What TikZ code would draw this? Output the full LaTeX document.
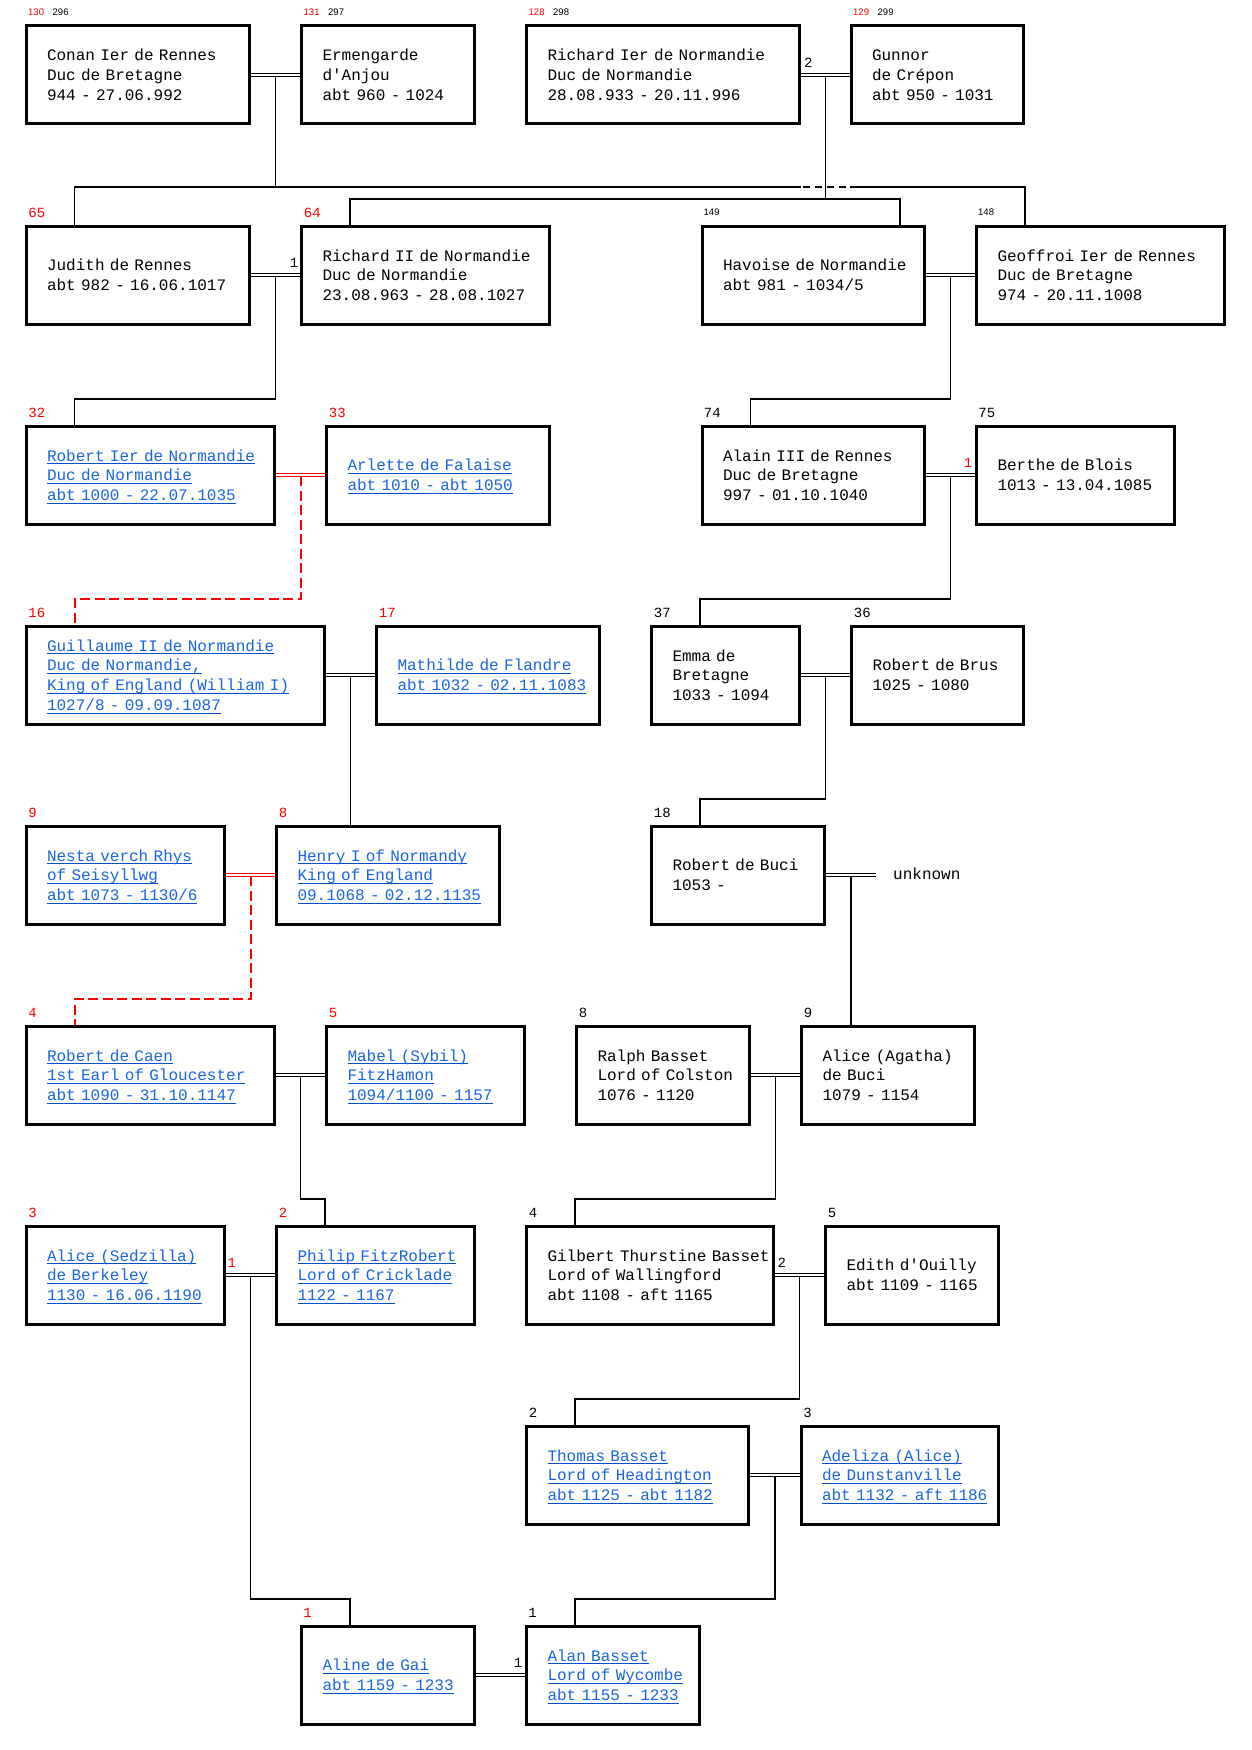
\documentclass[tikz,border=0pt]{standalone}
\usepackage{fontspec}
\setmonofont{Liberation Mono}
\newfontfamily\lblfont{Liberation Sans}
\newfontfamily\lblmono{Liberation Mono}
\usetikzlibrary{calc}
\definecolor{lnk}{RGB}{25,100,225}
\definecolor{lnkline}{RGB}{0,80,200}
\setlength{\parindent}{0pt}
\newsavebox\ulbox
\newcommand\sst{\rule[-3.2pt]{0pt}{18pt}}
\newcommand\plainln[1]{\mbox{\sst#1}}
\newcommand\linkln[1]{\sbox\ulbox{\color{lnk}#1}\mbox{\sst\rlap{\color{lnkline}\rule[-3pt]{\wd\ulbox}{1pt}}{\color{lnk}\usebox\ulbox}}}
\newcommand\persbox[5]{%
  \pgfmathsetmacro\pcx{(#2+#3)/2}%
  \pgfmathsetmacro\pcy{75+200*#4}%
  \pgfmathsetmacro\pmw{#3-#2-3}%
  \pgfmathsetmacro\ptw{#3-#2-45}%
  \node[person, minimum width=\pmw pt, text width=\ptw pt] (#1) at (\pcx,\pcy) {#5};}
\begin{document}
\begin{tikzpicture}[x=1pt,y=-1pt,
  person/.style={draw, line width=3pt, inner xsep=21pt, inner ysep=0pt,
    minimum height=98pt, align=left, font=\ttfamily\fontsize{16}{19.8}\selectfont},
  num/.style={font=\lblmono\fontsize{14}{14}\selectfont, inner sep=0pt, anchor=base west},
  tnum/.style={font=\lblfont\fontsize{9.5}{9.5}\selectfont, inner sep=0pt, anchor=base west},
  conn/.style={line width=1.5pt},
  dbl/.style={line width=1pt, double distance=1.2pt, double=white},
  rdash/.style={red, line width=2pt, dash pattern=on 10pt off 4.5pt}]
\fill[white] (0,0) rectangle (1251,1750);
% ---------- persons ----------
\persbox{conan}{24.5}{251}{0}{\plainln{Conan Ier de Rennes}\\\plainln{Duc de Bretagne}\\\plainln{944 - 27.06.992}}
\persbox{ermengarde}{300}{476}{0}{\plainln{Ermengarde}\\\plainln{d'Anjou}\\\plainln{abt 960 - 1024}}
\persbox{richard1}{525}{801}{0}{\plainln{Richard Ier de Normandie}\\\plainln{Duc de Normandie}\\\plainln{28.08.933 - 20.11.996}}
\persbox{gunnor}{849.5}{1025}{0}{\plainln{Gunnor}\\\plainln{de Crépon}\\\plainln{abt 950 - 1031}}
\persbox{judith}{24.5}{251}{1}{\plainln{Judith de Rennes}\\\plainln{abt 982 - 16.06.1017}}
\persbox{richard2}{300}{551}{1}{\plainln{Richard II de Normandie}\\\plainln{Duc de Normandie}\\\plainln{23.08.963 - 28.08.1027}}
\persbox{havoise}{700.5}{926}{1}{\plainln{Havoise de Normandie}\\\plainln{abt 981 - 1034/5}}
\persbox{geoffroi}{975}{1226}{1}{\plainln{Geoffroi Ier de Rennes}\\\plainln{Duc de Bretagne}\\\plainln{974 - 20.11.1008}}
\persbox{robert1}{24.5}{276}{2}{\linkln{Robert Ier de Normandie}\\\linkln{Duc de Normandie}\\\linkln{abt 1000 - 22.07.1035}}
\persbox{arlette}{325}{551}{2}{\linkln{Arlette de Falaise}\\\linkln{abt 1010 - abt 1050}}
\persbox{alain}{700.5}{926}{2}{\plainln{Alain III de Rennes}\\\plainln{Duc de Bretagne}\\\plainln{997 - 01.10.1040}}
\persbox{berthe}{975}{1176}{2}{\plainln{Berthe de Blois}\\\plainln{1013 - 13.04.1085}}
\persbox{guillaume}{24.5}{326}{3}{\linkln{Guillaume II de Normandie}\\\linkln{Duc de Normandie,}\\\linkln{King of England (William I)}\\\linkln{1027/8 - 09.09.1087}}
\persbox{mathilde}{375}{601}{3}{\linkln{Mathilde de Flandre}\\\linkln{abt 1032 - 02.11.1083}}
\persbox{emma}{650}{801}{3}{\plainln{Emma de}\\\plainln{Bretagne}\\\plainln{1033 - 1094}}
\persbox{brus}{850}{1025}{3}{\plainln{Robert de Brus}\\\plainln{1025 - 1080}}
\persbox{nesta}{24.5}{226}{4}{\linkln{Nesta verch Rhys}\\\linkln{of Seisyllwg}\\\linkln{abt 1073 - 1130/6}}
\persbox{henry}{275}{501}{4}{\linkln{Henry I of Normandy}\\\linkln{King of England}\\\linkln{09.1068 - 02.12.1135}}
\persbox{buci}{650}{826}{4}{\plainln{Robert de Buci}\\\plainln{1053 -}}
\persbox{caen}{24.5}{276}{5}{\linkln{Robert de Caen}\\\linkln{1st Earl of Gloucester}\\\linkln{abt 1090 - 31.10.1147}}
\persbox{mabel}{325}{526}{5}{\linkln{Mabel (Sybil)}\\\linkln{FitzHamon}\\\linkln{1094/1100 - 1157}}
\persbox{ralph}{575}{751}{5}{\plainln{Ralph Basset}\\\plainln{Lord of Colston}\\\plainln{1076 - 1120}}
\persbox{agatha}{800}{976}{5}{\plainln{Alice (Agatha)}\\\plainln{de Buci}\\\plainln{1079 - 1154}}
\persbox{sedzilla}{24.5}{226}{6}{\linkln{Alice (Sedzilla)}\\\linkln{de Berkeley}\\\linkln{1130 - 16.06.1190}}
\persbox{philip}{275}{476}{6}{\linkln{Philip FitzRobert}\\\linkln{Lord of Cricklade}\\\linkln{1122 - 1167}}
\persbox{gilbert}{525}{775}{6}{\plainln{Gilbert Thurstine Basset}\\\plainln{Lord of Wallingford}\\\plainln{abt 1108 - aft 1165}}
\persbox{edith}{824}{999.5}{6}{\plainln{Edith d'Ouilly}\\\plainln{abt 1109 - 1165}}
\persbox{thomas}{525}{750}{7}{\linkln{Thomas Basset}\\\linkln{Lord of Headington}\\\linkln{abt 1125 - abt 1182}}
\persbox{adeliza}{799.5}{999.5}{7}{\linkln{Adeliza (Alice)}\\\linkln{de Dunstanville}\\\linkln{abt 1132 - aft 1186}}
\persbox{aline}{300}{476}{8}{\linkln{Aline de Gai}\\\linkln{abt 1159 - 1233}}
\persbox{alan}{525}{701}{8}{\linkln{Alan Basset}\\\linkln{Lord of Wycombe}\\\linkln{abt 1155 - 1233}}
\node[font=\ttfamily\fontsize{16}{19.8}\selectfont, inner sep=0pt, anchor=base west] (unknown) at (893,879.8) {unknown};
% ---------- numbers above boxes ----------
\node[tnum,red] (t-conan-a) at ([shift={(3.5,-8.5)}]conan.north west) {130};
\node[tnum] (t-conan-b) at ([shift={(28,-8.5)}]conan.north west) {296};
\node[tnum,red] (t-erm-a) at ([shift={(3.5,-8.5)}]ermengarde.north west) {131};
\node[tnum] (t-erm-b) at ([shift={(28,-8.5)}]ermengarde.north west) {297};
\node[tnum,red] (t-ric-a) at ([shift={(3.5,-8.5)}]richard1.north west) {128};
\node[tnum] (t-ric-b) at ([shift={(28,-8.5)}]richard1.north west) {298};
\node[tnum,red] (t-gun-a) at ([shift={(3.5,-8.5)}]gunnor.north west) {129};
\node[tnum] (t-gun-b) at ([shift={(28,-8.5)}]gunnor.north west) {299};
\node[tnum] (t-hav) at ([shift={(3,-9)}]havoise.north west) {149};
\node[tnum] (t-geo) at ([shift={(3,-9)}]geoffroi.north west) {148};
\node[num,red] (n-judith) at ([shift={(3.7,-7.5)}]judith.north west) {65};
\node[num,red] (n-richard2) at ([shift={(3.7,-7.5)}]richard2.north west) {64};
\node[num,red] (n-robert1) at ([shift={(3.7,-7.5)}]robert1.north west) {32};
\node[num,red] (n-arlette) at ([shift={(3.7,-7.5)}]arlette.north west) {33};
\node[num] (n-alain) at ([shift={(3.2,-7.5)}]alain.north west) {74};
\node[num] (n-berthe) at ([shift={(3.2,-7.5)}]berthe.north west) {75};
\node[num,red] (n-guillaume) at ([shift={(3.7,-7.5)}]guillaume.north west) {16};
\node[num,red] (n-mathilde) at ([shift={(3.7,-7.5)}]mathilde.north west) {17};
\node[num] (n-emma) at ([shift={(3.7,-7.5)}]emma.north west) {37};
\node[num] (n-brus) at ([shift={(3.7,-7.5)}]brus.north west) {36};
\node[num,red] (n-nesta) at ([shift={(3.7,-7.5)}]nesta.north west) {9};
\node[num,red] (n-henry) at ([shift={(3.7,-7.5)}]henry.north west) {8};
\node[num] (n-buci) at ([shift={(3.7,-7.5)}]buci.north west) {18};
\node[num,red] (n-caen) at ([shift={(3.7,-7.5)}]caen.north west) {4};
\node[num,red] (n-mabel) at ([shift={(3.7,-7.5)}]mabel.north west) {5};
\node[num] (n-ralph) at ([shift={(3.7,-7.5)}]ralph.north west) {8};
\node[num] (n-agatha) at ([shift={(3.7,-7.5)}]agatha.north west) {9};
\node[num,red] (n-sedzilla) at ([shift={(3.7,-7.5)}]sedzilla.north west) {3};
\node[num,red] (n-philip) at ([shift={(3.7,-7.5)}]philip.north west) {2};
\node[num] (n-gilbert) at ([shift={(3.7,-7.5)}]gilbert.north west) {4};
\node[num] (n-edith) at ([shift={(3.7,-7.5)}]edith.north west) {5};
\node[num] (n-thomas) at ([shift={(3.7,-7.5)}]thomas.north west) {2};
\node[num] (n-adeliza) at ([shift={(3.7,-7.5)}]adeliza.north west) {3};
\node[num,red] (n-aline) at ([shift={(3.2,-7.5)}]aline.north west) {1};
\node[num] (n-alan) at ([shift={(3.2,-7.5)}]alan.north west) {1};
% ---------- marriage numbers ----------
\node[num] (mn-ric) at ([shift={(3,-7.3)}]richard1.east) {2};
\node[num, anchor=base east] (mn-jr) at ([shift={(-1.5,-7.3)}]richard2.west) {1};
\node[num, anchor=base east, red] (mn-ab) at ([shift={(-2.5,-7.3)}]berthe.west) {1};
\node[num, red] (mn-sp) at ([shift={(1.5,-7.3)}]sedzilla.east) {1};
\node[num] (mn-ge) at ([shift={(2.5,-7.3)}]gilbert.east) {2};
\node[num, anchor=base east] (mn-aa) at ([shift={(-2.5,-7.3)}]alan.west) {1};
% ---------- marriages ----------
\draw[dbl] (conan.east) -- (ermengarde.west);
\draw[dbl] (richard1.east) -- (gunnor.west);
\draw[dbl] (judith.east) -- (richard2.west);
\draw[dbl] (havoise.east) -- (geoffroi.west);
\draw[dbl, red] (robert1.east) -- (arlette.west);
\draw[dbl] (alain.east) -- (berthe.west);
\draw[dbl] (guillaume.east) -- (mathilde.west);
\draw[dbl] (emma.east) -- (brus.west);
\draw[dbl, red] (nesta.east) -- (henry.west);
\coordinate (unk-end) at (875.5,875);
\draw[dbl] (buci.east) -- (unk-end);
\draw[dbl] (caen.east) -- (mabel.west);
\draw[dbl] (ralph.east) -- (agatha.west);
\draw[dbl] (sedzilla.east) -- (philip.west);
\draw[dbl] (gilbert.east) -- (edith.west);
\draw[dbl] (thomas.east) -- (adeliza.west);
\draw[dbl] (aline.east) -- (alan.west);
% ---------- midpoints ----------
\coordinate (m1) at ($(conan.east)!.5!(ermengarde.west)$);
\coordinate (m2) at ($(richard1.east)!.5!(gunnor.west)$);
\coordinate (m3) at ($(judith.east)!.5!(richard2.west)$);
\coordinate (m4) at ($(havoise.east)!.5!(geoffroi.west)$);
\coordinate (m5) at ($(robert1.east)!.5!(arlette.west)$);
\coordinate (m6) at ($(alain.east)!.5!(berthe.west)$);
\coordinate (m7) at ($(guillaume.east)!.5!(mathilde.west)$);
\coordinate (m8) at ($(emma.east)!.5!(brus.west)$);
\coordinate (m9) at ($(nesta.east)!.5!(henry.west)$);
\coordinate (m10) at ($(buci.east)!.5!(unk-end)$);
\coordinate (m11) at ($(caen.east)!.5!(mabel.west)$);
\coordinate (m12) at ($(ralph.east)!.5!(agatha.west)$);
\coordinate (m13) at ($(sedzilla.east)!.5!(philip.west)$);
\coordinate (m14) at ($(gilbert.east)!.5!(edith.west)$);
\coordinate (m15) at ($(thomas.east)!.5!(adeliza.west)$);
% ---------- descent lines ----------
\coordinate (h1) at ($(m1)+(0,112)$);
\coordinate (jl) at (801,187);
\coordinate (jd) at (803,187);
\coordinate (jr) at (846,187);
\coordinate (js) at (850,187);
\draw[conn] ([yshift=-1pt]m1) -- (h1) -| ([xshift=50pt]judith.north west);
\draw[conn] (h1) -- (jl);
\draw[conn, dash pattern=on 6.5pt off 5.5pt] (jd) -- (jr);
\draw[conn] (js) -| ([xshift=50pt]geoffroi.north west);
\draw[conn] ([yshift=-1pt]m2) -- ++(0,123) coordinate (h2) -| ([xshift=50pt]richard2.north west);
\draw[conn] (h2) -| ([xshift=-26pt]havoise.north east);
\draw[conn] ([yshift=-1pt]m3) -- ++(0,123) -| ([xshift=50pt]robert1.north west);
\draw[conn] ([yshift=-1pt]m4) -- ++(0,123) -| ([xshift=50pt]alain.north west);
\draw[rdash] ([yshift=-1pt]m5) -- ++(0,123) -| ([xshift=50pt]guillaume.north west);
\draw[conn] ([yshift=-1pt]m6) -- ++(0,123) -| ([xshift=50pt]emma.north west);
\draw[conn] ([yshift=-1pt]m7) -- (m7 |- henry.north);
\draw[conn] ([yshift=-1pt]m8) -- ++(0,123) -| ([xshift=50pt]buci.north west);
\draw[rdash] ([yshift=-1pt]m9) -- ++(0,123) -| ([xshift=50pt]caen.north west);
\draw[conn] ([yshift=-1pt]m10) -- (m10 |- agatha.north);
\draw[conn] ([yshift=-1pt]m11) -- ++(0,123) -| ([xshift=50pt]philip.north west);
\draw[conn] ([yshift=-1pt]m12) -- ++(0,123) -| ([xshift=50pt]gilbert.north west);
\draw[conn] ([yshift=-1pt]m13) -- ++(0,323) -| ([xshift=50pt]aline.north west);
\draw[conn] ([yshift=-1pt]m14) -- ++(0,123) -| ([xshift=50pt]thomas.north west);
\draw[conn] ([yshift=-1pt]m15) -- ++(0,123) -| ([xshift=50pt]alan.north west);
\end{tikzpicture}
\end{document}
